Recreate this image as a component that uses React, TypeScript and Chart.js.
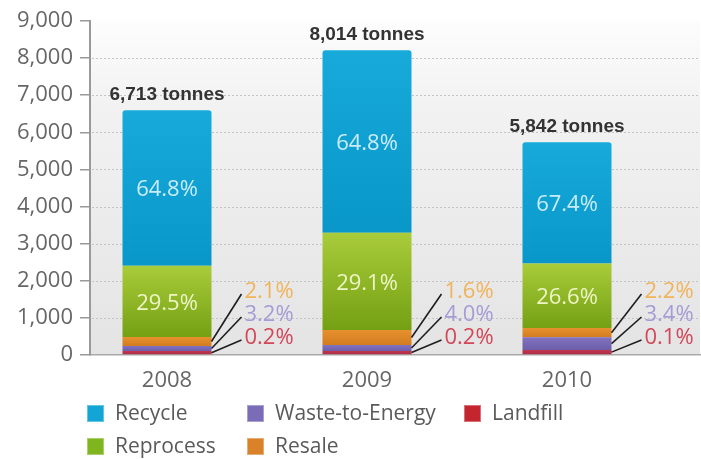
import React, { useEffect, useRef } from 'react';
import { Chart, registerables } from 'chart.js';

Chart.register(...registerables);

const years = ['2008', '2009', '2010'];
const totals = [6713, 8014, 5842];
const recycle = [4190, 4920, 3270];
const reprocess = [1920, 2620, 1740];
const resale = [240, 405, 245];
const wasteToEnergy = [140, 160, 345];
const landfill = [105, 110, 135];
const recyclePct = [64.8, 64.8, 67.4];
const reprocessPct = [29.5, 29.1, 26.6];
const resalePct = [2.1, 1.6, 2.2];
const wasteToEnergyPct = [3.2, 4.0, 3.4];
const landfillPct = [0.2, 0.2, 0.1];
const yTicks = [0, 1000, 2000, 3000, 4000, 5000, 6000, 7000, 8000, 9000];

const FONT = '"Open Sans", "Noto Sans", sans-serif';

type Style = { top: string; bottom: string; legend: string; text: string };
const styles: Record<string, Style> = {
  Recycle: { top: '#17aadb', bottom: '#0897c8', legend: '#12a5d6', text: '#c9ecf8' },
  Reprocess: { top: '#a9cc3a', bottom: '#74a013', legend: '#7fb51e', text: '#eef5c6' },
  Resale: { top: '#e6902e', bottom: '#d27c20', legend: '#d9822a', text: '#f0b45a' },
  'Waste-to-Energy': { top: '#8272c2', bottom: '#6c5ea8', legend: '#7b6cb8', text: '#a49cd6' },
  Landfill: { top: '#c0364e', bottom: '#b02e48', legend: '#c3262e', text: '#d2485a' },
};

const series = [
  { label: 'Landfill', values: landfill, pct: landfillPct },
  { label: 'Waste-to-Energy', values: wasteToEnergy, pct: wasteToEnergyPct },
  { label: 'Resale', values: resale, pct: resalePct },
  { label: 'Reprocess', values: reprocess, pct: reprocessPct },
  { label: 'Recycle', values: recycle, pct: recyclePct },
];

const legendColumns = [['Recycle', 'Reprocess'], ['Waste-to-Energy', 'Resale'], ['Landfill']];

const decor = {
  id: 'decor',
  beforeDraw(chart: any) {
    const { ctx, chartArea } = chart;
    const g = ctx.createLinearGradient(0, chartArea.top, 0, chartArea.bottom);
    g.addColorStop(0, '#fdfdfd');
    g.addColorStop(0.25, '#f2f2f2');
    g.addColorStop(1, '#e4e4e4');
    ctx.save();
    ctx.fillStyle = g;
    ctx.fillRect(chartArea.left, chartArea.top - 2, chartArea.right - chartArea.left, chartArea.bottom - chartArea.top + 2);
    ctx.restore();
  },
  beforeDatasetsDraw(chart: any) {
    const { ctx, chartArea } = chart;
    const y = chart.scales.y;
    ctx.save();
    ctx.strokeStyle = '#c4c4c4';
    ctx.lineWidth = 1;
    ctx.setLineDash([2, 2]);
    yTicks.forEach((v) => {
      if (v === 0 || v === 9000) return;
      const py = Math.round(y.getPixelForValue(v)) + 0.5;
      ctx.beginPath();
      ctx.moveTo(chartArea.left + 2, py);
      ctx.lineTo(chartArea.right, py);
      ctx.stroke();
    });
    ctx.restore();
    chart.data.datasets.forEach((ds: any, di: number) => {
      const st = styles[ds.label];
      chart.getDatasetMeta(di).data.forEach((el: any) => {
        const g = ctx.createLinearGradient(0, el.y, 0, el.base);
        g.addColorStop(0, st.top);
        g.addColorStop(1, st.bottom);
        el.options.backgroundColor = g;
      });
    });
  },
  afterDatasetsDraw(chart: any) {
    const { ctx, chartArea } = chart;
    const metas = series.map((_, di) => chart.getDatasetMeta(di));
    ctx.save();
    ctx.textAlign = 'center';
    ctx.textBaseline = 'middle';
    ctx.font = `22px ${FONT}`;
    [3, 4].forEach((di) => {
      const s = series[di];
      metas[di].data.forEach((el: any, i: number) => {
        ctx.fillStyle = styles[s.label].text;
        ctx.fillText(s.pct[i].toFixed(1) + '%', el.x, (el.y + el.base) / 2 + 2);
      });
    });
    ctx.font = `bold 19px "Liberation Sans", Arial, sans-serif`;
    ctx.fillStyle = '#333333';
    metas[4].data.forEach((el: any, i: number) => {
      ctx.fillText(totals[i].toLocaleString('en-US') + ' tonnes', el.x, el.y - 15);
    });
    const offsets: [number, number][] = [
      [2, 63],
      [1, 40],
      [0, 17],
    ];
    ctx.font = `22px ${FONT}`;
    ctx.textAlign = 'left';
    years.forEach((_, i) => {
      offsets.forEach(([di, off]) => {
        const el = metas[di].data[i];
        const right = el.x + el.width / 2;
        const ly = chartArea.bottom - off;
        ctx.strokeStyle = '#1e1e1e';
        ctx.lineWidth = 1.6;
        ctx.beginPath();
        ctx.moveTo(right, (el.y + el.base) / 2);
        ctx.lineTo(right + 30, ly + 2);
        ctx.stroke();
        ctx.fillStyle = styles[series[di].label].text;
        ctx.fillText(series[di].pct[i].toFixed(1) + '%', right + 33, ly);
      });
    });
    ctx.restore();
  },
  afterDraw(chart: any) {
    const { ctx } = chart;
    const colX = [87, 247, 464];
    const rowY = [405, 438];
    ctx.save();
    ctx.font = `21px ${FONT}`;
    ctx.textAlign = 'left';
    ctx.textBaseline = 'middle';
    legendColumns.forEach((col, c) => {
      col.forEach((name, r) => {
        const x = colX[c];
        const y = rowY[r];
        const st = styles[name];
        ctx.fillStyle = st.legend;
        ctx.fillRect(x, y, 17, 17);
        ctx.strokeStyle = 'rgba(255,255,255,0.35)';
        ctx.lineWidth = 1;
        ctx.strokeRect(x + 0.5, y + 0.5, 16, 16);
        ctx.fillStyle = '#5a5a5a';
        ctx.fillText(name, x + 28, y + 9);
      });
    });
    ctx.restore();
  },
};

export default function App() {
  const ref = useRef<HTMLCanvasElement | null>(null);
  useEffect(() => {
    if (!ref.current) return;
    Chart.defaults.font.family = FONT;
    const chart = new Chart(ref.current, {
      type: 'bar',
      data: {
        datasets: series.map((s) => ({
          label: s.label,
          data: s.values.map((v, i) => ({ x: i, y: v })),
          backgroundColor: () => styles[s.label].legend,
          borderWidth: 0,
          borderRadius: s.label === 'Recycle' ? { topLeft: 3, topRight: 3, bottomLeft: 0, bottomRight: 0 } : 0,
          borderSkipped: false,
          categoryPercentage: 1,
          barPercentage: 0.445,
        })),
      },
      options: {
        animation: false,
        responsive: true,
        maintainAspectRatio: false,
        layout: { padding: { top: 21, right: 1, left: 0, bottom: 0 } },
        plugins: { legend: { display: false }, tooltip: { enabled: false } },
        scales: {
          x: {
            type: 'linear',
            stacked: true,
            offset: false,
            bounds: 'data',
            min: -0.385,
            max: 2.665,
            afterDataLimits: (scale: any) => {
              scale.min = -0.385;
              scale.max = 2.665;
            },
            afterBuildTicks: (scale: any) => {
              scale.ticks = years.map((_, i) => ({ value: i }));
            },
            afterFit: (scale: any) => {
              scale.height = 104;
            },
            ticks: {
              stepSize: 1,
              includeBounds: false,
              autoSkip: false,
              maxRotation: 0,
              padding: 5,
              color: '#666666',
              font: { size: 22, family: FONT },
              callback: (v: any) => years[v] ?? '',
            },
            grid: { display: false, offset: false },
            border: { display: true, color: '#aaaaaa', width: 1.5 },
          },
          y: {
            stacked: true,
            min: 0,
            max: 9000,
            afterFit: (scale: any) => {
              scale.width = 90;
            },
            afterBuildTicks: (scale: any) => {
              scale.ticks = yTicks.map((v) => ({ value: v }));
            },
            ticks: {
              padding: 7,
              color: '#666666',
              font: { size: 22, family: FONT },
              callback: (v: any) => Number(v).toLocaleString('en-US'),
            },
            grid: { drawOnChartArea: false, drawTicks: true, tickLength: 10, color: '#999999', lineWidth: 1.5 },
            border: { display: true, color: '#999999', width: 2 },
          },
        },
      },
      plugins: [decor],
    } as any);
    return () => chart.destroy();
  }, []);
  return (
    <div style={{ position: 'fixed', left: 0, top: 0, width: 701, height: 459, background: '#ffffff' }}>
      <canvas ref={ref} />
    </div>
  );
}
